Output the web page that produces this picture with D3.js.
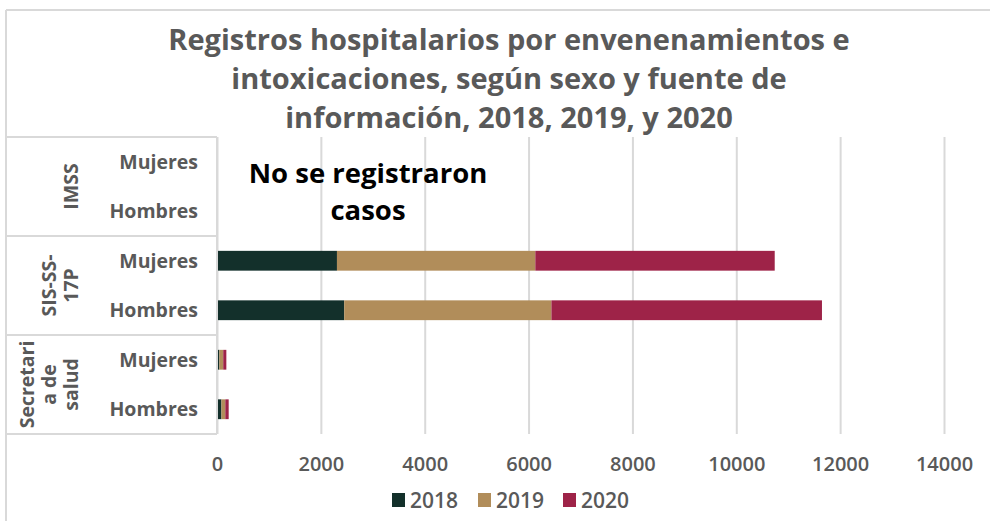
<!DOCTYPE html>
<html lang="es">
<head>
<meta charset="utf-8">
<title>Registros hospitalarios</title>
<script src="https://cdn.jsdelivr.net/npm/d3@7"></script>
<style>
  body { margin: 0; background: #fff; }
  svg text { font-family: "Open Sans", "Noto Sans", sans-serif; }
</style>
</head>
<body>
<div id="chart"></div>
<script>
// data
let groups = ["IMSS", "SIS-SS-17P", "Secretaria de salud"]
let groupLines = [["IMSS"], ["SIS-SS-", "17P"], ["Secretari", "a de", "salud"]]
let sexes = ["Mujeres", "Hombres"]
let years = ["2018", "2019", "2020"]
let v2018 = [0, 0, 2310, 2450, 45, 85]
let v2019 = [0, 0, 3820, 3990, 75, 75]
let v2020 = [0, 0, 4610, 5210, 60, 65]
let xTicks = [0, 2000, 4000, 6000, 8000, 10000, 12000, 14000]
let colors = ["#13302b", "#b18d5a", "#9e2348"]

let w = 990
let h = 521
let plotL = 217, plotR = 944, plotT = 137, plotB = 434
let gray = "#595959"
let lineCol = "#d9d9d9"

let rows = []
groups.forEach(function(g, gi) {
  sexes.forEach(function(s, si) {
    let i = gi * 2 + si
    rows.push({ key: g + "|" + s, group: g, sex: s, "2018": v2018[i], "2019": v2019[i], "2020": v2020[i] })
  })
})

let xScale = d3.scaleLinear().domain([0, 14000]).range([plotL, plotR])
let yScale = d3.scaleBand().domain(rows.map(function(d) { return d.key; }))
               .range([plotT, plotB]).paddingInner(0.6).paddingOuter(0.3)
let color = d3.scaleOrdinal().domain(years).range(colors)

let svg = d3.select("#chart").append("svg").attr("width", w).attr("height", h)

// outer frame (top + left only visible)
svg.append("line").attr("x1", 6).attr("x2", w).attr("y1", 10).attr("y2", 10)
   .attr("stroke", lineCol).attr("stroke-width", 2)
svg.append("line").attr("x1", 6).attr("x2", 6).attr("y1", 10).attr("y2", h)
   .attr("stroke", lineCol).attr("stroke-width", 2)

// title
let title = ["Registros hospitalarios por envenenamientos e",
             "intoxicaciones, según sexo y fuente de",
             "información, 2018, 2019, y 2020"]
svg.append("text").attr("x", 509).attr("y", 50).attr("text-anchor", "middle")
   .attr("font-size", 29).attr("font-weight", 700).attr("fill", gray)
   .selectAll("tspan").data(title).join("tspan")
   .attr("x", 509).attr("dy", function(d, i) { return i ? 39 : 0; })
   .text(function(d) { return d; })

// gridlines
let xAxis = d3.axisBottom(xScale).tickValues(xTicks).tickSize(-(plotB - plotT)).tickFormat(d3.format("d"))
let gx = svg.append("g").attr("transform", "translate(0," + plotB + ")").call(xAxis)
gx.select(".domain").remove()
gx.selectAll(".tick line").attr("stroke", lineCol).attr("stroke-width", 2)
gx.selectAll(".tick text").attr("y", 23).attr("font-size", 20).attr("font-weight", 600)
  .attr("fill", gray)

// bars
let stack = d3.stack().keys(years)
let series = stack(rows)
svg.append("g").selectAll("g").data(series).join("g")
   .attr("fill", function(d) { return color(d.key); })
   .selectAll("rect").data(function(d) { return d; }).join("rect")
   .attr("x", function(d) { return xScale(d[0]); })
   .attr("width", function(d) { return xScale(d[1]) - xScale(d[0]); })
   .attr("y", function(d) { return yScale(d.data.key); })
   .attr("height", yScale.bandwidth())

// category axis line
svg.append("line").attr("x1", plotL).attr("x2", plotL).attr("y1", plotT).attr("y2", plotB)
   .attr("stroke", lineCol).attr("stroke-width", 2)

// group separators in label area
let gh = (plotB - plotT) / groups.length
d3.range(groups.length + 1).forEach(function(i) {
  svg.append("line").attr("x1", 6).attr("x2", plotL)
     .attr("y1", plotT + i * gh).attr("y2", plotT + i * gh)
     .attr("stroke", lineCol).attr("stroke-width", 2)
})

// sex labels
svg.append("g").selectAll("text").data(rows).join("text")
   .attr("x", 198).attr("y", function(d) { return yScale(d.key) + yScale.bandwidth() / 2; })
   .attr("dy", "0.35em").attr("text-anchor", "end")
   .attr("font-size", 19.5).attr("font-weight", 700).attr("fill", gray)
   .text(function(d) { return d.sex; })

// group labels, rotated
groups.forEach(function(g, gi) {
  let lines = groupLines[gi]
  let cy = plotT + gi * gh + gh / 2
  let lh = 22
  let x0 = 78 - (lines.length - 1) * lh
  let t = svg.append("text")
     .attr("transform", "translate(" + x0 + "," + cy + ") rotate(-90)")
     .attr("text-anchor", "middle").attr("font-size", 19.5).attr("font-weight", 700).attr("fill", gray)
  t.selectAll("tspan").data(lines).join("tspan")
   .attr("x", 0).attr("y", function(d, i) { return i * lh; })
   .text(function(d) { return d; })
})

// note
svg.append("text").attr("x", 368).attr("y", 183).attr("text-anchor", "middle")
   .attr("font-size", 27.5).attr("font-weight", 700).attr("fill", "#000")
   .selectAll("tspan").data(["No se registraron", "casos"]).join("tspan")
   .attr("x", 368).attr("dy", function(d, i) { return i ? 37 : 0; })
   .text(function(d) { return d; })

// legend
let legX = [392, 478, 563]
let leg = svg.append("g").selectAll("g").data(years).join("g")
   .attr("transform", function(d, i) { return "translate(" + legX[i] + ",493)"; })
leg.append("rect").attr("width", 13).attr("height", 14).attr("fill", function(d) { return color(d); })
leg.append("text").attr("x", 18).attr("y", 14.5).attr("font-size", 21).attr("font-weight", 600)
   .attr("fill", gray).text(function(d) { return d; })
</script>
</body>
</html>
